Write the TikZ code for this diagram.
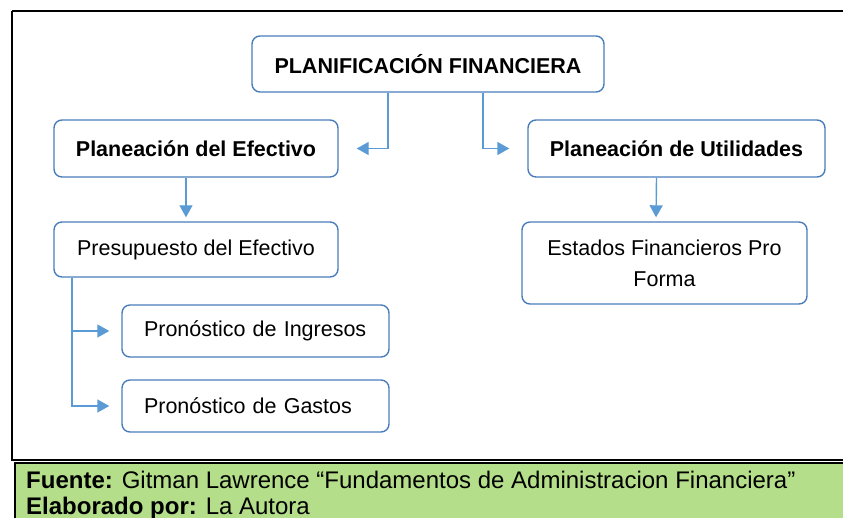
\documentclass[tikz,border=0pt]{standalone}
\usepackage{fontspec}
\setmainfont{Liberation Sans}
\usetikzlibrary{arrows.meta}

\definecolor{boxblue}{RGB}{74,126,187}
\definecolor{linkblue}{RGB}{91,155,213}
\definecolor{notegreen}{RGB}{180,222,137}

\begin{document}
\begin{tikzpicture}[x=1pt, y=-1pt,
    caja/.style={draw=boxblue, line width=1.4pt, rounded corners=8pt, fill=white,
      font=\fontsize{21.5}{31}\selectfont, align=center, inner sep=0pt},
    negrita/.style={font=\fontsize{21.5}{31}\selectfont\bfseries},
    enlace/.style={draw=linkblue, line width=1.4pt,
      -{Triangle[length=12pt, width=13pt]}}]

        \useasboundingbox (0,0) rectangle (843,518);

        % Outer frame
        \draw[line width=2pt] (12,11) -- (860,11);
        \draw[line width=2pt] (12,11) -- (12,460) -- (860,460);

        % Boxes
        \node[caja, negrita, minimum width=352pt, minimum height=56pt]
            (plan) at (428,64) {PLANIFICACIÓN FINANCIERA};
        \node[caja, negrita, minimum width=284pt, minimum height=57pt]
            (efectivo) at (196,148.5) {Planeación del Efectivo};
        \node[caja, negrita, minimum width=297pt, minimum height=57pt]
            (utilidades) at (676.5,148.5) {Planeación de Utilidades};
        \node[caja, minimum width=284pt, minimum height=55pt]
            (presupuesto) at (196,249.5) {Presupuesto del Efectivo};
        \node[caja, minimum width=285pt, minimum height=82pt]
            (estados) at (664.5,263) {Estados Financieros Pro\\Forma};
        \node[caja, minimum width=267pt, minimum height=52pt, text width=223pt, align=left]
            (ingresos) at (255.5,331) {Pronóstico de Ingresos};
        \node[caja, minimum width=267pt, minimum height=52pt, text width=223pt, align=left]
            (gastos) at (255.5,406) {Pronóstico de Gastos};

        % Connectors
        \draw[enlace, shorten >=18pt] ([xshift=-40pt]plan.south) |- (efectivo.east);
        \draw[enlace, shorten >=18pt] ([xshift=55pt]plan.south) |- (utilidades.west);
        \draw[enlace, shorten >=4pt] ([xshift=-10pt]efectivo.south) -- ([xshift=-10pt]presupuesto.north);
        \draw[enlace, shorten >=4pt] ([xshift=-20pt]utilidades.south) -- (estados.north -| 656,0);
        \draw[enlace, shorten >=12pt] ([xshift=-124pt]presupuesto.south) |- (ingresos.west);
        \draw[enlace, shorten >=12pt] ([xshift=-124pt]presupuesto.south) |- (gastos.west);

        % Source note
        \fill[notegreen] (15,463) rectangle (860,530);
        \draw[line width=2pt] (15,530) -- (15,463) -- (860,463);
        \node[anchor=base west, inner sep=0pt, font=\fontsize{24}{27}\selectfont] (fuente) at (26,488)
            {\textbf{Fuente:} Gitman Lawrence “Fundamentos de Administracion Financiera”};
        \node[anchor=base west, inner sep=0pt, font=\fontsize{24}{27}\selectfont] (autor) at (26,514)
            {\textbf{Elaborado por:} La Autora};
    \end{tikzpicture}
\end{document}
